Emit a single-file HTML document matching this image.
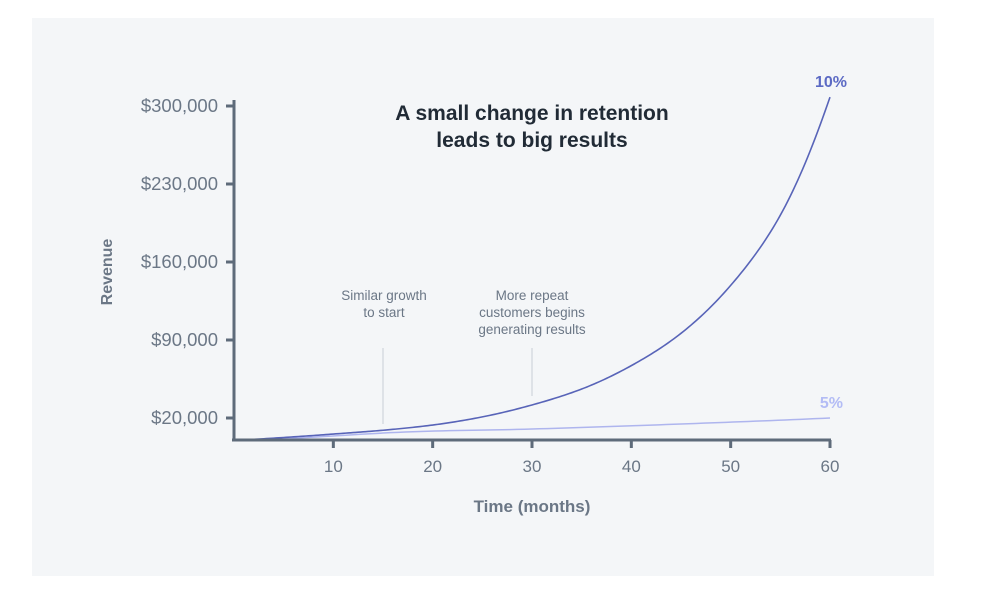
<!DOCTYPE html>
<html><head><meta charset="utf-8"><style>
body{margin:0;background:#fff;width:984px;height:595px;overflow:hidden;font-family:"Liberation Sans",sans-serif}
#panel{position:absolute;left:32px;top:18px;width:902px;height:558px;background:#f4f6f8}
svg{position:absolute;left:0;top:0}
</style></head><body>
<div id="panel"></div>
<svg id="chart" width="984" height="595"></svg>
<script>
const months=[0,5,10,15,20,25,30,35,40,45,50,55,60];
const retention10=[0,2500,5600,9000,13700,21000,31700,46000,67000,96000,139000,202000,308000];
const months5=[0,15,30,45,60];
const retention5=[0,6500,10100,14600,20000];
const yTicks=[20000,90000,160000,230000,300000];
const yTickLabels=["$20,000","$90,000","$160,000","$230,000","$300,000"];
const xTicks=[10,20,30,40,50,60];
const NS="http://www.w3.org/2000/svg";
const svg=document.getElementById('chart');
const X=m=>234+m*(830-234)/60;
const Y=v=>418-(v-20000)*78/70000;
function el(t,a,txt){const e=document.createElementNS(NS,t);for(const k in a)e.setAttribute(k,a[k]);if(txt!=null)e.textContent=txt;svg.appendChild(e);return e;}
// smooth in log space with catmull-rom, densely sampled
function smooth(xs,ys){const C=3000;const L=ys.map(v=>Math.log(v+C));const n=xs.length;let d='';
for(let i=0;i<n-1;i++){const l0=L[Math.max(0,i-1)],l1=L[i],l2=L[i+1],l3=L[Math.min(n-1,i+2)];
const m1=(l2-l0)/(i==0?1:2),m2=(l3-l1)/(i+2>n-1?1:2);
for(let s=0;s<=20;s++){if(i>0&&s==0)continue;const t=s/20,t2=t*t,t3=t2*t;
const l=(2*t3-3*t2+1)*l1+(t3-2*t2+t)*m1+(-2*t3+3*t2)*l2+(t3-t2)*m2;
const m=xs[i]+(xs[i+1]-xs[i])*t;const v=Math.exp(l)-C;
d+=(d?' L':'M')+X(m).toFixed(2)+','+Y(v).toFixed(2);}}return d;}
const axisC="#5e6b7a";
let a1=el('line',{x1:X(15),x2:X(15),y1:348,y2:424,stroke:'#c9cfd6','stroke-width':1});

let a2=el('line',{x1:X(30),x2:X(30),y1:348,y2:396,stroke:'#c9cfd6','stroke-width':1});

let l5=el('path',{d:smooth(months5,retention5),fill:'none',stroke:'#aeb5ee','stroke-width':1.5});

let l10=el('path',{d:smooth(months,retention10),fill:'none',stroke:'#5864b8','stroke-width':1.6});

let ya=el('line',{x1:234,x2:234,y1:100,y2:441,stroke:axisC,'stroke-width':3});

let xa=el('line',{x1:232,x2:831,y1:440,y2:440,stroke:axisC,'stroke-width':3});

yTicks.forEach((v,i)=>{
 let t=el('line',{x1:226,x2:234,y1:Y(v),y2:Y(v),stroke:axisC,'stroke-width':3});
 
 let l=el('text',{x:218,y:Y(v)+6,'text-anchor':'end','font-size':18.5,fill:'#6b7786'},yTickLabels[i]);
 
});
xTicks.forEach(m=>{
 let t=el('line',{x1:X(m),x2:X(m),y1:440,y2:448,stroke:axisC,'stroke-width':3});
 
 let l=el('text',{x:X(m),y:472,'text-anchor':'middle','font-size':17,fill:'#6b7786'},String(m));
 
});
let yt=el('text',{x:112,y:272,'text-anchor':'middle','font-size':16,'font-weight':'bold',fill:'#6b7786',transform:'rotate(-90 112 272)'},'Revenue');

let xt=el('text',{x:532,y:512,'text-anchor':'middle','font-size':17,'font-weight':'bold',fill:'#6b7786'},'Time (months)');

let t1=el('text',{x:532,y:120,'text-anchor':'middle','font-size':21,'font-weight':'bold',fill:'#212b36'},'A small change in retention');

let t2=el('text',{x:532,y:147,'text-anchor':'middle','font-size':21,'font-weight':'bold',fill:'#212b36'},'leads to big results');

[['Similar growth',384,300],['to start',384,317]].forEach(([s,x,y])=>{let e=el('text',{x,y,'text-anchor':'middle','font-size':13.5,fill:'#6b7786'},s);
});
[['More repeat',532,300],['customers begins',532,317],['generating results',532,334]].forEach(([s,x,y])=>{let e=el('text',{x,y,'text-anchor':'middle','font-size':13.5,fill:'#6b7786'},s);
});
let lb10=el('text',{x:847,y:87,'text-anchor':'end','font-size':16,'font-weight':'bold',fill:'#5c6ac4'},'10%');

let lb5=el('text',{x:843,y:408,'text-anchor':'end','font-size':16,'font-weight':'bold',fill:'#b3bcf5'},'5%');

</script>
</body></html>
